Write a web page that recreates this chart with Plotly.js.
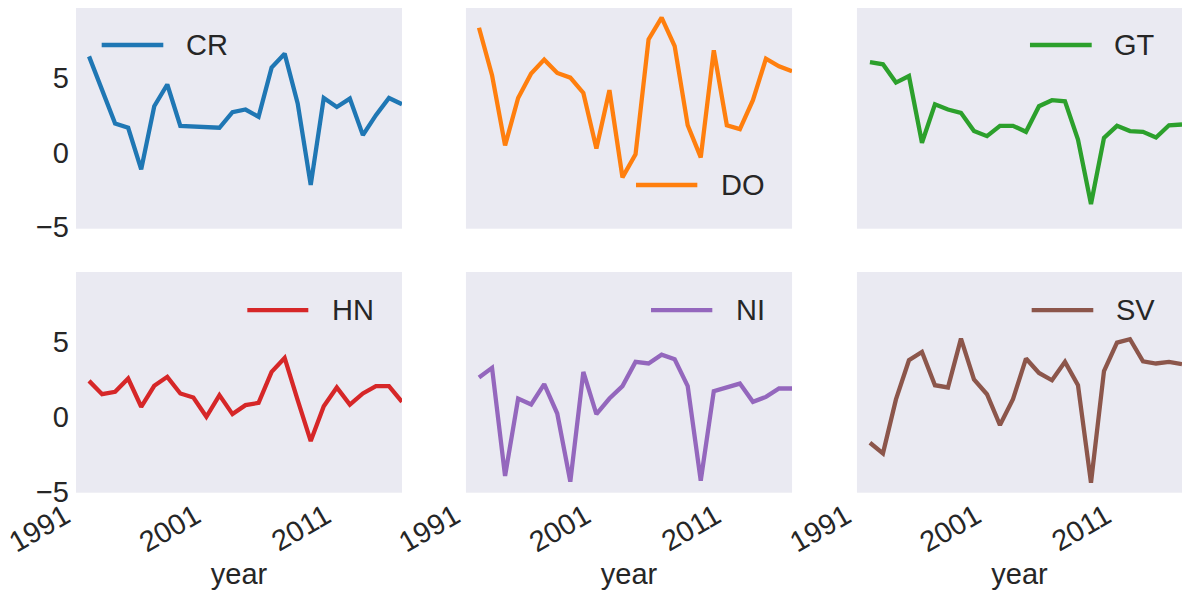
<!DOCTYPE html>
<html>
<head>
<meta charset="utf-8">
<script src="https://cdn.plot.ly/plotly-3.0.1.min.js"></script>
<style>html,body{margin:0;padding:0;background:#fff;}#chart{width:1182px;height:592px;}</style>
</head>
<body>
<div id="chart"></div>
<script>
const years = [1992,1993,1994,1995,1996,1997,1998,1999,2000,2001,2002,2003,2004,2005,2006,2007,2008,2009,2010,2011,2012,2013,2014,2015,2016];
const countries = ["CR","DO","GT","HN","NI","SV"];
const CR = [6.42,4.27,1.94,1.65,-1.13,3.09,4.54,1.78,1.74,1.70,1.65,2.69,2.87,2.38,5.67,6.60,3.27,-2.17,3.64,3.04,3.60,1.16,2.49,3.64,3.22];
const DO = [8.33,5.16,0.47,3.64,5.27,6.20,5.31,5.00,3.98,0.27,4.16,-1.66,-0.13,7.55,9.00,7.11,1.82,-0.33,6.82,1.82,1.56,3.49,6.27,5.76,5.42];
const GT = [6.04,5.89,4.67,5.11,0.65,3.22,2.87,2.65,1.43,1.09,1.78,1.78,1.38,3.09,3.49,3.42,0.87,-3.44,0.98,1.78,1.43,1.38,1.00,1.82,1.87];
const HN = [2.38,1.49,1.65,2.54,0.65,2.05,2.65,1.54,1.27,-0.02,1.43,0.16,0.76,0.91,2.98,3.91,1.09,-1.64,0.69,1.94,0.80,1.54,2.03,2.03,0.98];
const NI = [2.60,3.25,-3.97,1.20,0.80,2.16,0.20,-4.35,2.98,0.16,1.20,2.03,3.65,3.54,4.13,3.82,2.03,-4.28,1.69,1.91,2.20,0.98,1.31,1.87,1.87];
const SV = [-1.75,-2.46,1.14,3.76,4.31,2.09,1.94,5.20,2.47,1.49,-0.57,1.16,3.87,2.91,2.42,3.65,2.09,-4.42,3.04,4.93,5.16,3.69,3.54,3.65,3.49];
const seriesList = [CR, DO, GT, HN, NI, SV];
const colors = ["#1f77b4","#ff7f0e","#2ca02c","#d62728","#9467bd","#8c564b"];
const xTickVals = [1991, 2001, 2011];
const xTickText = ["1991", "2001", "2011"];
const yTickVals = [-5, 0, 5];
const yTickText = ["\u22125", "0", "5"];

const FONT = "Liberation Sans, Arial, Helvetica, sans-serif";
const TXT = "#262626";
const FS = 29;

const xDomains = [[0.0643,0.3401],[0.3942,0.6701],[0.7250,1.0]];
const yDomains = [[0.6137,0.9865],[0.1677,0.5405]];

// legend placement (domain fractions): line x0, x1, y, text x
const legendPos = [
  [0.0788,0.2678,0.8324,0.3306],
  [0.5215,0.7095,0.198,0.7754],
  [0.5323,0.7222,0.8324,0.7848],
  [0.5255,0.7126,0.8278,0.7803],
  [0.5675,0.7555,0.8278,0.8214],
  [0.5375,0.7271,0.8278,0.7900]
];

const data = [];
const layout = {
  width: 1182, height: 592,
  margin: {l:0, r:0, t:0, b:0},
  paper_bgcolor: "#ffffff",
  plot_bgcolor: "#EAEAF2",
  showlegend: false,
  font: {family: FONT, size: FS, color: TXT},
  shapes: [], annotations: []
};

for (let i = 0; i < 6; i++) {
  const n = i + 1;
  const row = Math.floor(i / 3), col = i % 3;
  const xa = n === 1 ? "xaxis" : "xaxis" + n;
  const ya = n === 1 ? "yaxis" : "yaxis" + n;
  const xr = n === 1 ? "x" : "x" + n;
  const yr = n === 1 ? "y" : "y" + n;
  data.push({
    type: "scatter", mode: "lines", name: countries[i],
    x: years, y: seriesList[i], xaxis: xr, yaxis: yr,
    line: {color: colors[i], width: 4.3}
  });
  layout[xa] = {
    domain: xDomains[col], anchor: yr, range: [1991, 2016],
    showgrid: false, zeroline: false, showline: false, ticks: "",
    tickvals: xTickVals, ticktext: xTickText, tickangle: -30,
    showticklabels: row === 1, ticklabelshift: -11,
    tickfont: {family: FONT, size: FS, color: TXT},
    fixedrange: true
  };
  if (row === 1) {
    layout[xa].title = {text: "year", font: {family: FONT, size: FS, color: TXT}, standoff: 6};
  }
  layout[ya] = {
    domain: yDomains[row], anchor: xr, range: [-5.09, 9.65],
    showgrid: false, zeroline: false, showline: false, ticks: "",
    tickvals: yTickVals, ticktext: yTickText,
    showticklabels: col === 0, ticklabelstandoff: 6,
    tickfont: {family: FONT, size: FS, color: TXT},
    fixedrange: true
  };
  const p = legendPos[i];
  layout.shapes.push({
    type: "line", xref: xr + " domain", yref: yr + " domain",
    x0: p[0], x1: p[1], y0: p[2], y1: p[2],
    line: {color: colors[i], width: 4.3}
  });
  layout.annotations.push({
    xref: xr + " domain", yref: yr + " domain", x: p[3], y: p[2],
    xanchor: "left", yanchor: "middle", showarrow: false,
    text: countries[i], font: {family: FONT, size: FS, color: TXT}
  });
}

Plotly.newPlot("chart", data, layout, {displayModeBar: false, staticPlot: true});
</script>
</body>
</html>
